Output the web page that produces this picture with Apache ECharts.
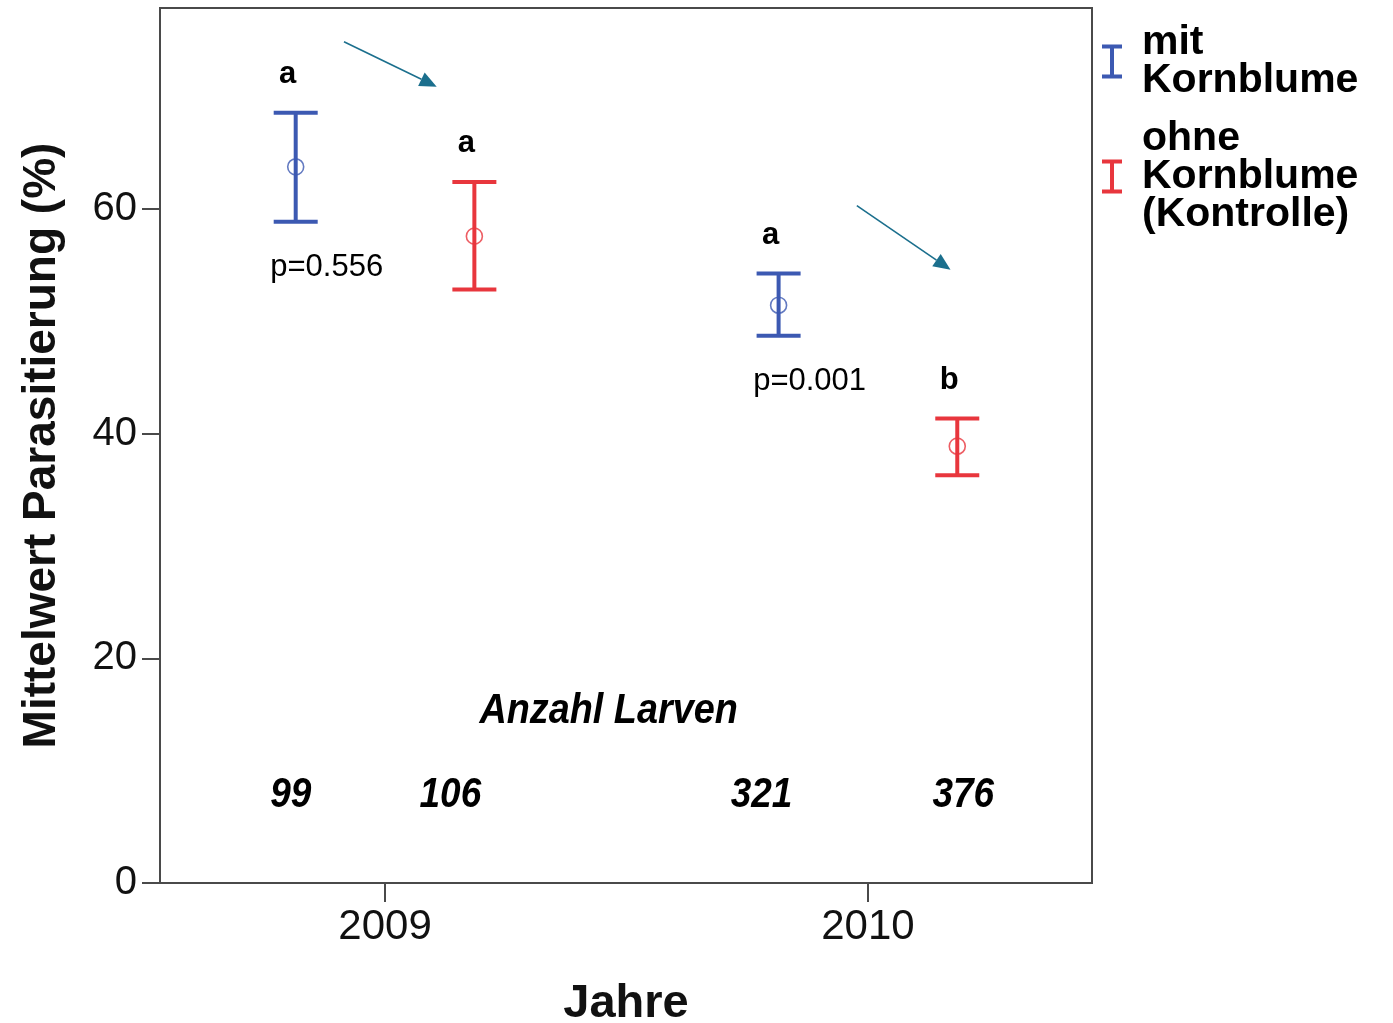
<!DOCTYPE html>
<html>
<head>
<meta charset="utf-8">
<script src="https://cdn.jsdelivr.net/npm/echarts@6/dist/echarts.min.js"></script>
<style>html,body{margin:0;padding:0;background:#fff}#c{width:1393px;height:1023px}</style>
</head>
<body>
<div id="c"></div>
<script>
// ---- data ----
const years = [2009, 2010];
const mitMean  = [63.76, 51.44];
const mitLower = [58.86, 48.71];
const mitUpper = [68.57, 54.27];
const ohneMean  = [57.59, 38.89];
const ohneLower = [52.84, 36.30];
const ohneUpper = [62.42, 41.35];
const mitLetters  = ['a', 'a'];
const ohneLetters = ['a', 'b'];
const pValues = ['p=0.556', 'p=0.001'];
const mitLarven  = [99, 321];
const ohneLarven = [106, 376];
const yTicks = [0, 20, 40, 60];
const xTicks = [2009, 2010];
const seriesNames = ['mit\nKornblume', 'ohne\nKornblume\n(Kontrolle)'];
// annotation arrows in data units: [x1, y1, x2, y2]
const arrowSegments = [
  [2008.915, 74.9, 2009.107, 70.9],
  [2009.977, 60.3, 2010.171, 54.6]
];

const FONT = 'Arial, "Liberation Sans", Helvetica, sans-serif';
const BLUE = '#3c59b2';
const RED = '#e8363d';
const AXIS = '#4a4a4a';
const DODGE = 0.185;
const LARVEN_Y = 8;
const mitCountNudge = [-5, -17];
const ohneCountNudge = [-24, 6];

function errRender(color, letters, pvals, counts, nudges, dx) {
  return function (params, api) {
    const i = params.dataIndex;
    const x = api.value(0) + dx;
    const pm = api.coord([x, api.value(1)]);
    const pl = api.coord([x, api.value(2)]);
    const ph = api.coord([x, api.value(3)]);
    const cw = 22;
    const ls = { stroke: color, lineWidth: 4 };
    const ch = [
      { type: 'line', shape: { x1: ph[0], y1: ph[1], x2: pl[0], y2: pl[1] }, style: ls },
      { type: 'line', shape: { x1: ph[0] - cw, y1: ph[1], x2: ph[0] + cw, y2: ph[1] }, style: ls },
      { type: 'line', shape: { x1: pl[0] - cw, y1: pl[1], x2: pl[0] + cw, y2: pl[1] }, style: ls },
      { type: 'circle', shape: { cx: pm[0], cy: pm[1], r: 8 }, style: { fill: 'rgba(255,255,255,0)', stroke: color, lineWidth: 1.6, opacity: 0.8 } },
      { type: 'text', x: ph[0] - 8, y: ph[1] - 38, style: { text: letters[i], fill: '#000', font: 'bold 31px ' + FONT, align: 'center', verticalAlign: 'middle' } }
    ];
    if (pvals) {
      ch.push({ type: 'text', x: pl[0] + 31, y: pl[1] + 46, style: { text: pvals[i], fill: '#000', font: '31px ' + FONT, align: 'center', verticalAlign: 'middle' } });
    }
    const pc = api.coord([x, LARVEN_Y]);
    ch.push({ type: 'text', x: pc[0] + nudges[i], y: pc[1] + 2, scaleX: 0.88, style: { text: String(counts[i]), fill: '#000', font: 'italic bold 42px ' + FONT, align: 'center', verticalAlign: 'middle' } });
    return { type: 'group', children: ch };
  };
}

const chart = echarts.init(document.getElementById('c'), null, { renderer: 'canvas' });
const iconPath = 'path://M0,0H20V4H12V30H20V34H0V30H8V4H0Z';

const option = {
  animation: false,
  backgroundColor: '#fff',
  grid: { left: 160, right: 301, top: 8, bottom: 140, outerBoundsMode: 'none', containLabel: false, show: true, borderColor: AXIS, borderWidth: 2, backgroundColor: 'transparent' },
  legend: {
    data: [{ name: seriesNames[0], icon: iconPath }, { name: seriesNames[1], icon: iconPath }],
    orient: 'vertical', left: 1102, top: 22, itemWidth: 20, itemHeight: 34, itemGap: 17, padding: 0,
    selectedMode: false,
    textStyle: { fontSize: 41, fontWeight: 'bold', lineHeight: 38, color: '#000', fontFamily: FONT, padding: [0, 0, 0, 15] }
  },
  xAxis: {
    type: 'value', min: 2008.534, max: 2010.464,
    name: 'Jahre', nameLocation: 'middle', nameGap: 98,
    nameTextStyle: { fontSize: 47, fontWeight: 'bold', color: '#111', fontFamily: FONT, lineHeight: 46 },
    axisLine: { show: true, lineStyle: { color: AXIS, width: 2 } },
    axisTick: { show: true, length: 19, lineStyle: { color: AXIS, width: 2 }, customValues: xTicks },
    axisLabel: { customValues: xTicks, margin: 24, fontSize: 42, lineHeight: 41, color: '#111', fontFamily: FONT, formatter: v => String(v) },
    splitLine: { show: false }
  },
  yAxis: {
    type: 'value', min: 0, max: 77.9,
    name: 'Mittelwert Parasitierung (%)', nameLocation: 'middle', nameGap: 95,
    nameTextStyle: { fontSize: 46, fontWeight: 'bold', color: '#111', fontFamily: FONT, lineHeight: 46 },
    axisLine: { show: true, lineStyle: { color: AXIS, width: 2 } },
    axisTick: { show: true, length: 18, lineStyle: { color: AXIS, width: 2 }, customValues: yTicks },
    axisLabel: { customValues: yTicks, margin: 23, fontSize: 40, color: '#111', fontFamily: FONT },
    splitLine: { show: false }
  },
  series: [
    {
      name: seriesNames[0], type: 'custom', itemStyle: { color: BLUE }, clip: false,
      renderItem: errRender(BLUE, mitLetters, pValues, mitLarven, mitCountNudge, -DODGE),
      encode: { x: 0, y: [1, 2, 3] },
      data: years.map((y, i) => [y, mitMean[i], mitLower[i], mitUpper[i]])
    },
    {
      name: seriesNames[1], type: 'custom', itemStyle: { color: RED }, clip: false,
      renderItem: errRender(RED, ohneLetters, null, ohneLarven, ohneCountNudge, DODGE),
      encode: { x: 0, y: [1, 2, 3] },
      data: years.map((y, i) => [y, ohneMean[i], ohneLower[i], ohneUpper[i]])
    },
    {
      name: 'arrows', type: 'custom', silent: true, clip: false,
      renderItem: function (params, api) {
        const a = api.coord([api.value(0), api.value(1)]);
        const b = api.coord([api.value(2), api.value(3)]);
        const dxp = b[0] - a[0], dyp = b[1] - a[1];
        const len = Math.sqrt(dxp * dxp + dyp * dyp);
        const ux = dxp / len, uy = dyp / len;
        const hl = 17, hw = 7.5;
        const bx = b[0] - ux * hl, by = b[1] - uy * hl;
        return {
          type: 'group', children: [
            { type: 'line', shape: { x1: a[0], y1: a[1], x2: bx, y2: by }, style: { stroke: '#1b6f8d', lineWidth: 1.6 } },
            { type: 'polygon', shape: { points: [[b[0], b[1]], [bx - uy * hw, by + ux * hw], [bx + uy * hw, by - ux * hw]] }, style: { fill: '#1b6f8d' } }
          ]
        };
      },
      encode: { x: [0, 2], y: [1, 3] },
      data: arrowSegments
    }
  ]
};
chart.setOption(option);

const ap = chart.convertToPixel({ gridIndex: 0 }, [2009.463, 15.3]);
chart.setOption({
  graphic: [{
    type: 'text', x: ap[0], y: ap[1], scaleX: 0.9,
    style: { text: 'Anzahl Larven', fill: '#000', font: 'italic bold 42px ' + FONT, align: 'center', verticalAlign: 'middle' }
  }]
});
</script>
</body>
</html>
